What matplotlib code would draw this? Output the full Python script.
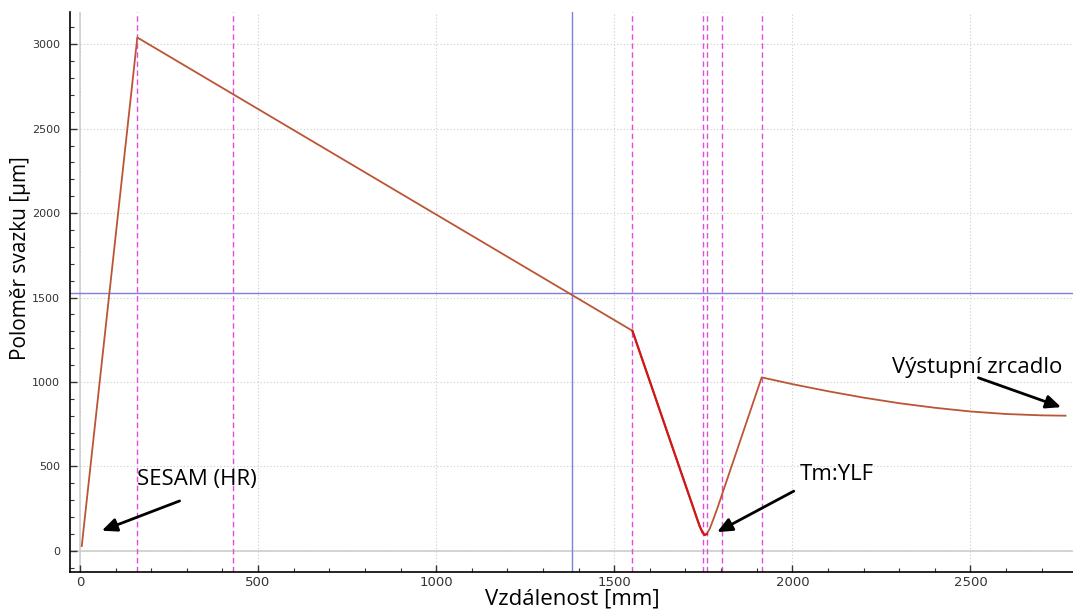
import matplotlib
import numpy as np
import matplotlib.pyplot as plt
from matplotlib.ticker import MultipleLocator

# beam radius along the resonator
dist_mm = [5, 161, 1551, 1600, 1648, 1679, 1721, 1730, 1740, 1748, 1754, 1760, 1768, 1778,
           1791, 1835, 1857, 1914,
           2000, 2100, 2200, 2300, 2400, 2500, 2600, 2700, 2767]
radius_um = [28, 3040, 1303, 1003, 708, 518, 261, 205, 145, 108, 93, 100, 130, 185,
             261, 535, 672, 1027,
             987, 945, 907, 874, 847, 825, 810, 802, 800]
# part of the curve drawn in red (left flank of the waist in the crystal)
red_mm = [1551, 1600, 1648, 1679, 1721, 1730, 1740, 1748, 1754, 1760]
red_um = [1303, 1003, 708, 518, 261, 205, 145, 108, 93, 100]

elements_mm = [161, 430, 1551, 1750, 1760, 1802, 1914]
cursor_x = 1381
cursor_y = 1525

fig = plt.figure(figsize=(10.73, 6.12), dpi=100)
ax = fig.add_axes([70/1073, (612-571.7)/612, (1073-69.3)/1073, (571.7-12)/612])

ax.set_xlim(-28, 2790)
ax.set_ylim(-124, 3191)

ax.grid(True, which='major', color='#cccccc', linestyle=(0, (1, 2)), linewidth=0.8)
ax.axhline(0, color='#cfcfcf', linewidth=1.2, zorder=1)
ax.axvline(0, color='#cfcfcf', linewidth=1.2, zorder=1)

for xv in elements_mm:
    ax.axvline(xv, color='#e24be2', linestyle=(0, (4, 2.5)), linewidth=1.0, zorder=2)
ax.axvline(cursor_x, color='#7f7fdf', linewidth=1.0, zorder=2)
ax.axhline(cursor_y, color='#7f7fdf', linewidth=1.0, zorder=2)

ax.plot(dist_mm, radius_um, color='#bb5535', linewidth=1.3, zorder=3)
ax.plot(red_mm, red_um, color='#d01818', linewidth=1.6, zorder=4)

for s in ['top', 'right']:
    ax.spines[s].set_visible(False)
ax.spines['left'].set_linewidth(1.2)
ax.spines['bottom'].set_linewidth(1.2)

ax.xaxis.set_major_locator(MultipleLocator(500))
ax.xaxis.set_minor_locator(MultipleLocator(100))
ax.yaxis.set_major_locator(MultipleLocator(500))
ax.yaxis.set_minor_locator(MultipleLocator(100))
ax.tick_params(which='both', direction='in', color='#333333')
ax.tick_params(which='major', length=5, width=1)
ax.tick_params(which='minor', length=3, width=0.8)
ax.tick_params(axis='y', labelsize=8, labelcolor='#333333', pad=7)
ax.tick_params(axis='x', labelsize=9.5, labelcolor='#333333', pad=3)
for lbl in ax.get_xticklabels():
    lbl.set_family('Liberation Sans Narrow')

ax.set_xlabel("Vzdálenost [mm]", family='Open Sans', size=16, labelpad=0)
ax.set_ylabel("Poloměr svazku [µm]", family='Open Sans', size=15)
ax.yaxis.set_label_coords(-0.039, 0.56)

ann_font = {'family': 'Open Sans', 'size': 16}
arrow = dict(arrowstyle='-|>,head_length=0.9,head_width=0.4', color='black', lw=2)
ax.annotate("", xy=(54, 113), xytext=(287, 301), arrowprops=arrow)
ax.text(160, 420, "SESAM (HR)", fontdict=ann_font, va='center')
ax.annotate("", xy=(1782, 103), xytext=(2011, 361), arrowprops=arrow)
ax.text(2020, 450, "Tm:YLF", fontdict=ann_font, va='center')
ax.annotate("", xy=(2762, 845), xytext=(2515, 1030), arrowprops=arrow)
ax.text(2281, 1085, "Výstupní zrcadlo", fontdict=ann_font, va='center')

plt.savefig("out.png", dpi=100)
